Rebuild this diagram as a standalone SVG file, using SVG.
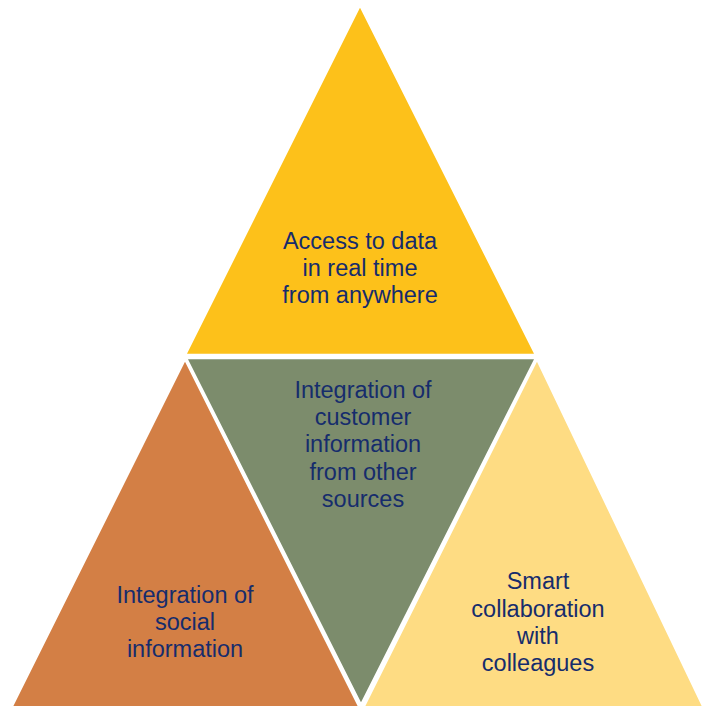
<svg xmlns="http://www.w3.org/2000/svg" width="702" height="706" viewBox="0 0 702 706">
<style>
.tri{stroke:#ffffff;stroke-width:2.5;stroke-linejoin:miter}
.lbl{font-family:"Liberation Sans",Arial,sans-serif;font-size:23.5px;fill:#162C6C;text-anchor:middle}
</style>
<rect width="702" height="706" fill="#ffffff"/>
<g id="top">
<polygon class="tri" points="360,5 185,355 536,355" fill="#FDC11A"/>
<text class="lbl"><tspan x="360" y="249">Access to data</tspan><tspan x="360" y="276">in real time</tspan><tspan x="360" y="303">from anywhere</tspan></text>
</g>
<g id="left">
<polygon class="tri" points="185,359 11,708 360,708" fill="#D37F45"/>
<text class="lbl"><tspan x="185" y="603">Integration of</tspan><tspan x="185" y="630">social</tspan><tspan x="185" y="657">information</tspan></text>
</g>
<g id="right">
<polygon class="tri" points="537,359 363,708 704,708" fill="#FEDC83"/>
<text class="lbl"><tspan x="538" y="589">Smart</tspan><tspan x="538" y="617">collaboration</tspan><tspan x="538" y="644">with</tspan><tspan x="538" y="671">colleagues</tspan></text>
</g>
<g id="middle">
<polygon class="tri" points="186,358 536,358 361,705" fill="#7C8C6C"/>
<text class="lbl"><tspan x="363" y="398">Integration of</tspan><tspan x="363" y="425">customer</tspan><tspan x="363" y="452">information</tspan><tspan x="363" y="480">from other</tspan><tspan x="363" y="507">sources</tspan></text>
</g>
<g id="connectors"></g>
</svg>
